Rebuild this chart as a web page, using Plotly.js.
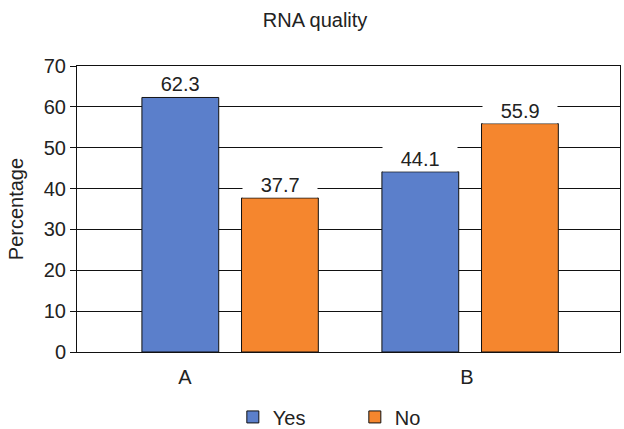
<!DOCTYPE html>
<html><head><meta charset="utf-8">
<script src="https://cdn.plot.ly/plotly-3.0.1.min.js"></script>
<style>body{margin:0;background:#fff}#chart{width:624px;height:429px}</style>
</head><body><div id="chart"></div>
<script>
const categories = ['A', 'B'];
const groupPos = [0, 1];
const yesValues = [62.3, 44.1];
const noValues = [37.7, 55.9];
const yTicks = [0, 10, 20, 30, 40, 50, 60, 70];
const tickLabelPos = [-0.1875, 0.9875];

const barWidth = 0.32;
const yesOffset = -0.367;
const noOffset = 0.048;
const fontFam = 'Liberation Sans, Arial, sans-serif';
const txt = '#222';
const pad = '&nbsp;&nbsp;&nbsp;';

const traces = [
  {type: 'bar', name: 'Yes', x: groupPos, y: yesValues, width: barWidth, offset: yesOffset,
   marker: {color: '#5b7fcb', line: {color: '#111', width: 1}}, hoverinfo: 'none'},
  {type: 'bar', name: 'No', x: groupPos, y: noValues, width: barWidth, offset: noOffset,
   marker: {color: '#f5862e', line: {color: '#111', width: 1}}, hoverinfo: 'none'}
];

const annotations = [];
groupPos.forEach((g, i) => {
  [[yesValues, yesOffset], [noValues, noOffset]].forEach(([vals, off]) => {
    annotations.push({x: g + off + barWidth / 2, y: vals[i], xref: 'x', yref: 'y',
      text: pad + vals[i].toFixed(1) + pad, showarrow: false, yanchor: 'bottom', yshift: 0,
      bgcolor: '#fff', borderpad: 1,
      font: {family: fontFam, size: 20, color: txt}});
  });
});
annotations.push({text: 'Percentage', xref: 'paper', yref: 'paper', x: -0.112, y: 0.5,
  xanchor: 'center', yanchor: 'middle', textangle: -90, showarrow: false,
  font: {family: fontFam, size: 20, color: txt}});

const layout = {
  width: 624, height: 429,
  margin: {l: 77, r: 4, t: 66, b: 77, autoexpand: false},
  paper_bgcolor: '#fff', plot_bgcolor: '#fff',
  title: {text: 'RNA quality', x: 0.505, xanchor: 'center', y: 0.953, yanchor: 'middle',
    font: {family: fontFam, size: 20, color: txt}},
  font: {family: fontFam, size: 20, color: txt},
  showlegend: true,
  legend: {orientation: 'h', x: 0.287, xanchor: 'left', y: -0.227, yanchor: 'middle',
    entrywidth: 77, entrywidthmode: 'pixels', itemwidth: 30,
    font: {family: fontFam, size: 20, color: txt}},
  xaxis: {type: 'linear', range: [-0.6375, 1.625], tickvals: tickLabelPos, ticktext: categories,
    showgrid: false, zeroline: false, showline: true, linecolor: '#111', linewidth: 1,
    mirror: true, ticks: '', ticklabelstandoff: 7, automargin: false,
    tickfont: {family: fontFam, size: 20, color: txt}, fixedrange: true},
  yaxis: {range: [0, 70], tickvals: yTicks, showgrid: true, gridcolor: '#111', gridwidth: 1,
    zeroline: false, showline: true, linecolor: '#111', linewidth: 1, mirror: true,
    ticks: 'outside', ticklen: 6, tickcolor: '#111', automargin: false,
    tickfont: {family: fontFam, size: 20, color: txt}},
  annotations: annotations
};
Plotly.newPlot('chart', traces, layout, {displayModeBar: false, staticPlot: true});
</script></body></html>
